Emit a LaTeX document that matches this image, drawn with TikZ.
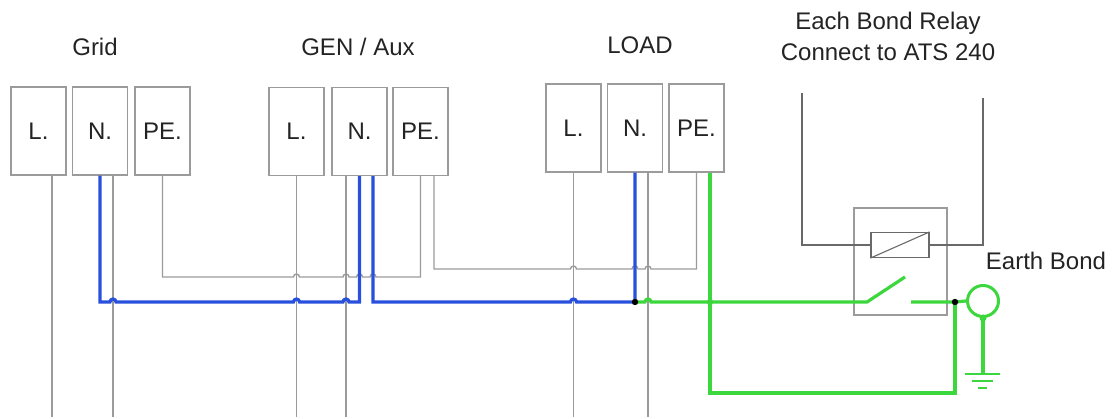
\documentclass[tikz,border=0pt]{standalone}
\usepackage{fontspec}
\setmainfont{Liberation Sans}
\usetikzlibrary{calc}
\definecolor{wiregrey}{RGB}{155,155,155}
\definecolor{ctlgrey}{RGB}{105,105,105}
\definecolor{neutral}{RGB}{40,80,220}
\definecolor{earth}{RGB}{60,215,60}
\definecolor{ink}{RGB}{35,35,35}
\tikzset{
  term/.style={draw=wiregrey,line width=1.3pt,minimum width=55pt,minimum height=88pt,inner sep=0pt,text=ink,font=\fontsize{24}{28}\selectfont},
  wire/.style={draw=wiregrey,line width=1.4pt},
  nwire/.style={draw=neutral,line width=3.2pt},
  pewire/.style={draw=earth,line width=3.2pt},
  lbl/.style={text=ink,font=\fontsize{24}{31}\selectfont,align=center},
}
\newcommand{\hop}[1]{-- ($(#1)+(-3,0)$) arc[start angle=180,end angle=0,radius=3pt]}

\begin{document}
\begin{tikzpicture}[x=1pt,y=-1pt]
  \useasboundingbox (0,0) rectangle (1114,419);

  \node[lbl] (grid) at (95,47) {Grid};
  \node[lbl] (gen) at (358,47) {GEN / Aux};
  \node[lbl] (load) at (640,45) {LOAD};
  \node[lbl] (relaytxt) at (888,36) {Each Bond Relay\\Connect to ATS 240};
  \node[lbl] (bondtxt) at (1046,261) {Earth Bond};

  \node[term] (gL) at (38.5,131) {L.};
  \node[term] (gN) at (100,131) {N.};
  \node[term] (gPE) at (162.5,131) {PE.};
  \node[term] (aL) at (296.5,131.5) {L.};
  \node[term] (aN) at (359.5,131.5) {N.};
  \node[term] (aPE) at (420.5,131.5) {PE.};
  \node[term] (lL) at (573.5,128) {L.};
  \node[term] (lN) at (635,128) {N.};
  \node[term] (lPE) at (696.5,128) {PE.};

  \coordinate (gL1) at ([xshift=13.5pt]gL.south);
  \coordinate (gN1) at (gN.south);
  \coordinate (gN2) at ([xshift=13pt]gN.south);
  \coordinate (gPE1) at (gPE.south);
  \coordinate (aL1) at (aL.south);
  \coordinate (aN0) at ([xshift=-13.5pt]aN.south);
  \coordinate (aN1) at (aN.south);
  \coordinate (aN2) at ([xshift=13.5pt]aN.south);
  \coordinate (aPE1) at (aPE.south);
  \coordinate (aPE2) at ([xshift=13.5pt]aPE.south);
  \coordinate (lL1) at (lL.south);
  \coordinate (lN1) at (lN.south);
  \coordinate (lN2) at ([xshift=13pt]lN.south);
  \coordinate (lPE1) at (lPE.south);
  \coordinate (lPE2) at ([xshift=13.5pt]lPE.south);

  \coordinate (bot) at (0,417);
  \coordinate (peA) at (0,277);
  \coordinate (peB) at (0,269);
  \coordinate (nb) at (0,302);
  \coordinate (gb) at (0,393);

  \foreach \w in {gL1,gN2,aL1,aN0,lL1,lN2}
    \draw[wire] (\w) -- (\w |- bot);

  \draw[wire] (gPE1) -- (gPE1 |- peA) \hop{aL1 |- peA} \hop{aN0 |- peA} \hop{aN1 |- peA} \hop{aN2 |- peA} -- (aPE1 |- peA) -- (aPE1);
  \draw[wire] (aPE2) -- (aPE2 |- peB) \hop{lL1 |- peB} \hop{lN1 |- peB} \hop{lN2 |- peB} -- (lPE1 |- peB) -- (lPE1);

  \draw[nwire] (gN1) -- (gN1 |- nb) \hop{gN2 |- nb} \hop{aL1 |- nb} \hop{aN0 |- nb} -- (aN1 |- nb) -- (aN1);
  \draw[nwire] (aN2) -- (aN2 |- nb) \hop{lL1 |- nb} -- (lN1 |- nb) -- (lN1);

  \node[draw=wiregrey,line width=1.3pt,minimum width=93pt,minimum height=107pt,inner sep=0pt] (relay) at (900.5,261.5) {};
  \node[draw=ctlgrey,line width=1.2pt,minimum width=58pt,minimum height=25pt,inner sep=0pt] (coil) at (900,245) {};
  \draw[ctlgrey,line width=1.1pt] (coil.south west) -- (coil.north east);
  \coordinate (ctlL) at (802,93);
  \coordinate (ctlR) at (983,98);
  \draw[ctlgrey,line width=1.3pt] (coil.west) -- (ctlL |- coil.west) -- (ctlL);
  \draw[ctlgrey,line width=1.3pt] (coil.east) -- (ctlR |- coil.east) -- (ctlR);

  \coordinate (pivot) at (867,302);
  \coordinate (blade) at (905,277);
  \coordinate (contact) at (911,302);
  \coordinate (bond) at (955,302);
  \node[draw=earth,line width=3pt,circle,minimum size=31pt,inner sep=0pt] (earthc) at (983,301) {};
  \coordinate (gnd) at (983,374);

  \draw[pewire] (lN1 |- nb) \hop{lN2 |- nb} -- (pivot) -- (blade);
  \draw[pewire] (lPE2) -- (lPE2 |- gb) -- (bond |- gb) -- (bond);
  \draw[pewire] (contact) -- (bond) -- (earthc.west);
  \draw[pewire] (earthc.south) -- (gnd);
  \draw[earth,line width=2pt] ([xshift=-18pt]gnd) -- ([xshift=17pt]gnd);
  \draw[earth,line width=2pt] ([shift={(-11,7)}]gnd) -- ([shift={(10,7)}]gnd);
  \draw[earth,line width=2pt] ([shift={(-5,14)}]gnd) -- ([shift={(4,14)}]gnd);

  \fill[black] (lN1 |- nb) circle (3.2pt);
  \fill[black] (bond) circle (3.2pt);
  \fill[earth] (lPE2 |- nb) circle (3.2pt);
  \fill[earth] (earthc.south) circle (3.5pt);
\end{tikzpicture}
\end{document}
